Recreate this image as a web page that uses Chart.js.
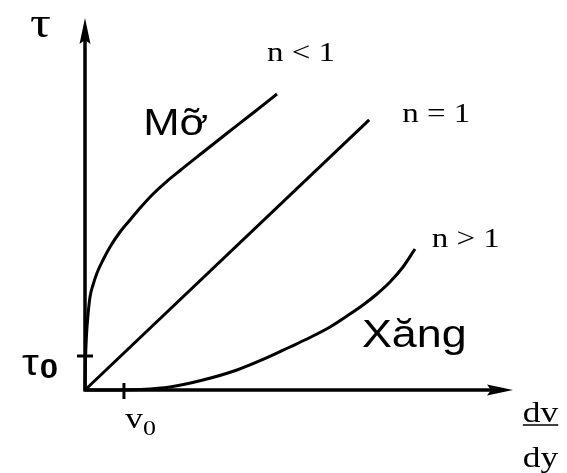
<!DOCTYPE html>
<html>
<head>
<meta charset="utf-8">
<script src="https://cdn.jsdelivr.net/npm/chart.js@4.4.1/dist/chart.umd.min.js"></script>
<style>
  html, body { margin: 0; padding: 0; background: #ffffff; }
  #wrap { width: 567px; height: 473px; }
</style>
</head>
<body>
<div id="wrap"><canvas id="c" width="567" height="473"></canvas></div>
<script>
// ---- data (abstract units: shear rate dv/dy on x, shear stress tau on y) ----
const fatX = [0, 0.012, 0.035, 0.070, 0.117, 0.187, 0.280, 0.421, 0.584, 0.818, 1.051, 1.308, 1.589, 1.893, 2.220, 2.734, 3.341, 3.925, 4.486];
const fatY = [0, 0.806, 1.478, 2.016, 2.500, 2.823, 3.145, 3.495, 3.844, 4.247, 4.570, 4.919, 5.269, 5.591, 5.901, 6.371, 6.922, 7.446, 7.957];
const newtonX = [0, 6.64];
const newtonY = [0, 7.26];
const gasX = [0, 0.818, 1.285, 1.986, 2.757, 3.551, 4.159, 4.790, 5.257, 5.724, 6.121, 6.495, 6.822, 7.126, 7.430, 7.710];
const gasY = [0, 0, 0.013, 0.081, 0.269, 0.538, 0.820, 1.156, 1.411, 1.694, 1.989, 2.285, 2.581, 2.903, 3.306, 3.790];
const tau0Value = [0.914];
const v0Value = [0.91];
const xRange = [0, 10];
const yRange = [0, 10];

const toPts = (xs, ys) => xs.map((x, i) => ({ x: x, y: ys[i] }));

const SERIF = '"Liberation Serif", "Times New Roman", serif';
const SANS = '"Liberation Sans", Arial, sans-serif';
const STRETCH = 1.18;

// text annotations, anchored in data units (left, baseline)
const labels = [
  { t: 'τ', x: -1.285, y: 9.49, font: '44px ' + SERIF },
  { t: 'Mỡ', x: 1.36, y: 6.85, font: '37px ' + SANS },
  { t: 'Xăng', x: 6.47, y: 1.16, font: '38px ' + SANS },
  { t: 'n < 1', x: 4.25, y: 8.84, font: '28px ' + SERIF },
  { t: 'n = 1', x: 7.41, y: 7.20, font: '28px ' + SERIF },
  { t: 'n > 1', x: 8.10, y: 3.84, font: '28px ' + SERIF },
  { t: 'dy', x: 10.23, y: -2.07, font: '30px ' + SERIF }
];

const decorPlugin = {
  id: 'decor',
  afterDatasetsDraw(chart) {
    const ctx = chart.ctx;
    const xs = chart.scales.x, ys = chart.scales.y;
    const X = v => xs.getPixelForValue(v), Y = v => ys.getPixelForValue(v);
    const ox = X(0), oy = Y(0);
    const top = chart.chartArea.top, right = chart.chartArea.right;
    ctx.save();
    ctx.strokeStyle = '#000'; ctx.fillStyle = '#000';
    ctx.lineCap = 'butt';
    // axes
    ctx.lineWidth = 3.5;
    ctx.beginPath();
    ctx.moveTo(ox, oy + 1.5); ctx.lineTo(ox, top + 20);
    ctx.moveTo(ox - 1.5, oy); ctx.lineTo(right - 20, oy);
    ctx.stroke();
    // arrow heads
    ctx.beginPath();
    ctx.moveTo(ox, top); ctx.lineTo(ox - 5.5, top + 26); ctx.lineTo(ox, top + 22); ctx.lineTo(ox + 5.5, top + 26); ctx.closePath();
    ctx.fill();
    ctx.beginPath();
    ctx.moveTo(right, oy); ctx.lineTo(right - 26, oy - 5.5); ctx.lineTo(right - 22, oy); ctx.lineTo(right - 26, oy + 5.5); ctx.closePath();
    ctx.fill();
    // ticks tau0 and v0
    ctx.lineWidth = 3;
    ctx.beginPath();
    const ty = Y(tau0Value[0]);
    ctx.moveTo(ox - 8, ty); ctx.lineTo(ox + 8, ty);
    const vx = X(v0Value[0]);
    ctx.moveTo(vx, oy - 7); ctx.lineTo(vx, oy + 9);
    ctx.stroke();

    // texts
    ctx.textBaseline = 'alphabetic';
    ctx.textAlign = 'left';
    const draw = (t, px, py, font, s) => {
      ctx.save();
      ctx.font = font;
      ctx.translate(px, py);
      ctx.scale(s, 1);
      ctx.fillText(t, 0, 0);
      ctx.restore();
      ctx.font = font;
      return ctx.measureText(t).width * s;
    };
    labels.forEach(l => draw(l.t, X(l.x), Y(l.y), l.font, STRETCH));
    // tau0
    let w = draw('τ', X(-1.47), Y(0.40), '36px ' + SANS, STRETCH);
    draw('0', X(-1.47) + w + 1, Y(0.32), 'bold 28px ' + SANS, STRETCH);
    // v0
    w = draw('v', X(0.94), Y(-1.02), '30px ' + SERIF, STRETCH);
    draw('0', X(0.94) + w, Y(-1.2), '22px ' + SERIF, STRETCH);
    // dv over dy
    const dvx = X(10.23), dvy = Y(-0.86);
    w = draw('dv', dvx, dvy, '30px ' + SERIF, STRETCH);
    ctx.lineWidth = 1.5;
    ctx.beginPath();
    ctx.moveTo(dvx, dvy + 3); ctx.lineTo(dvx + w, dvy + 3);
    ctx.stroke();
    ctx.restore();
  }
};

const lineStyle = {
  showLine: true, pointRadius: 0, borderColor: '#000', borderWidth: 3,
  backgroundColor: '#000', fill: false, clip: false
};

new Chart(document.getElementById('c'), {
  type: 'scatter',
  data: {
    datasets: [
      Object.assign({ label: 'n < 1 (Mỡ)', data: toPts(fatX, fatY), cubicInterpolationMode: 'monotone' }, lineStyle),
      Object.assign({ label: 'n = 1', data: toPts(newtonX, newtonY), tension: 0 }, lineStyle),
      Object.assign({ label: 'n > 1 (Xăng)', data: toPts(gasX, gasY), cubicInterpolationMode: 'monotone' }, lineStyle)
    ]
  },
  options: {
    responsive: false,
    devicePixelRatio: 1,
    animation: false,
    layout: { padding: { left: 85, right: 54, top: 18, bottom: 83 } },
    plugins: { legend: { display: false }, tooltip: { enabled: false }, title: { display: false } },
    scales: {
      x: { type: 'linear', display: false, min: xRange[0], max: xRange[1] },
      y: { type: 'linear', display: false, min: yRange[0], max: yRange[1] }
    }
  },
  plugins: [decorPlugin]
});
</script>
</body>
</html>
